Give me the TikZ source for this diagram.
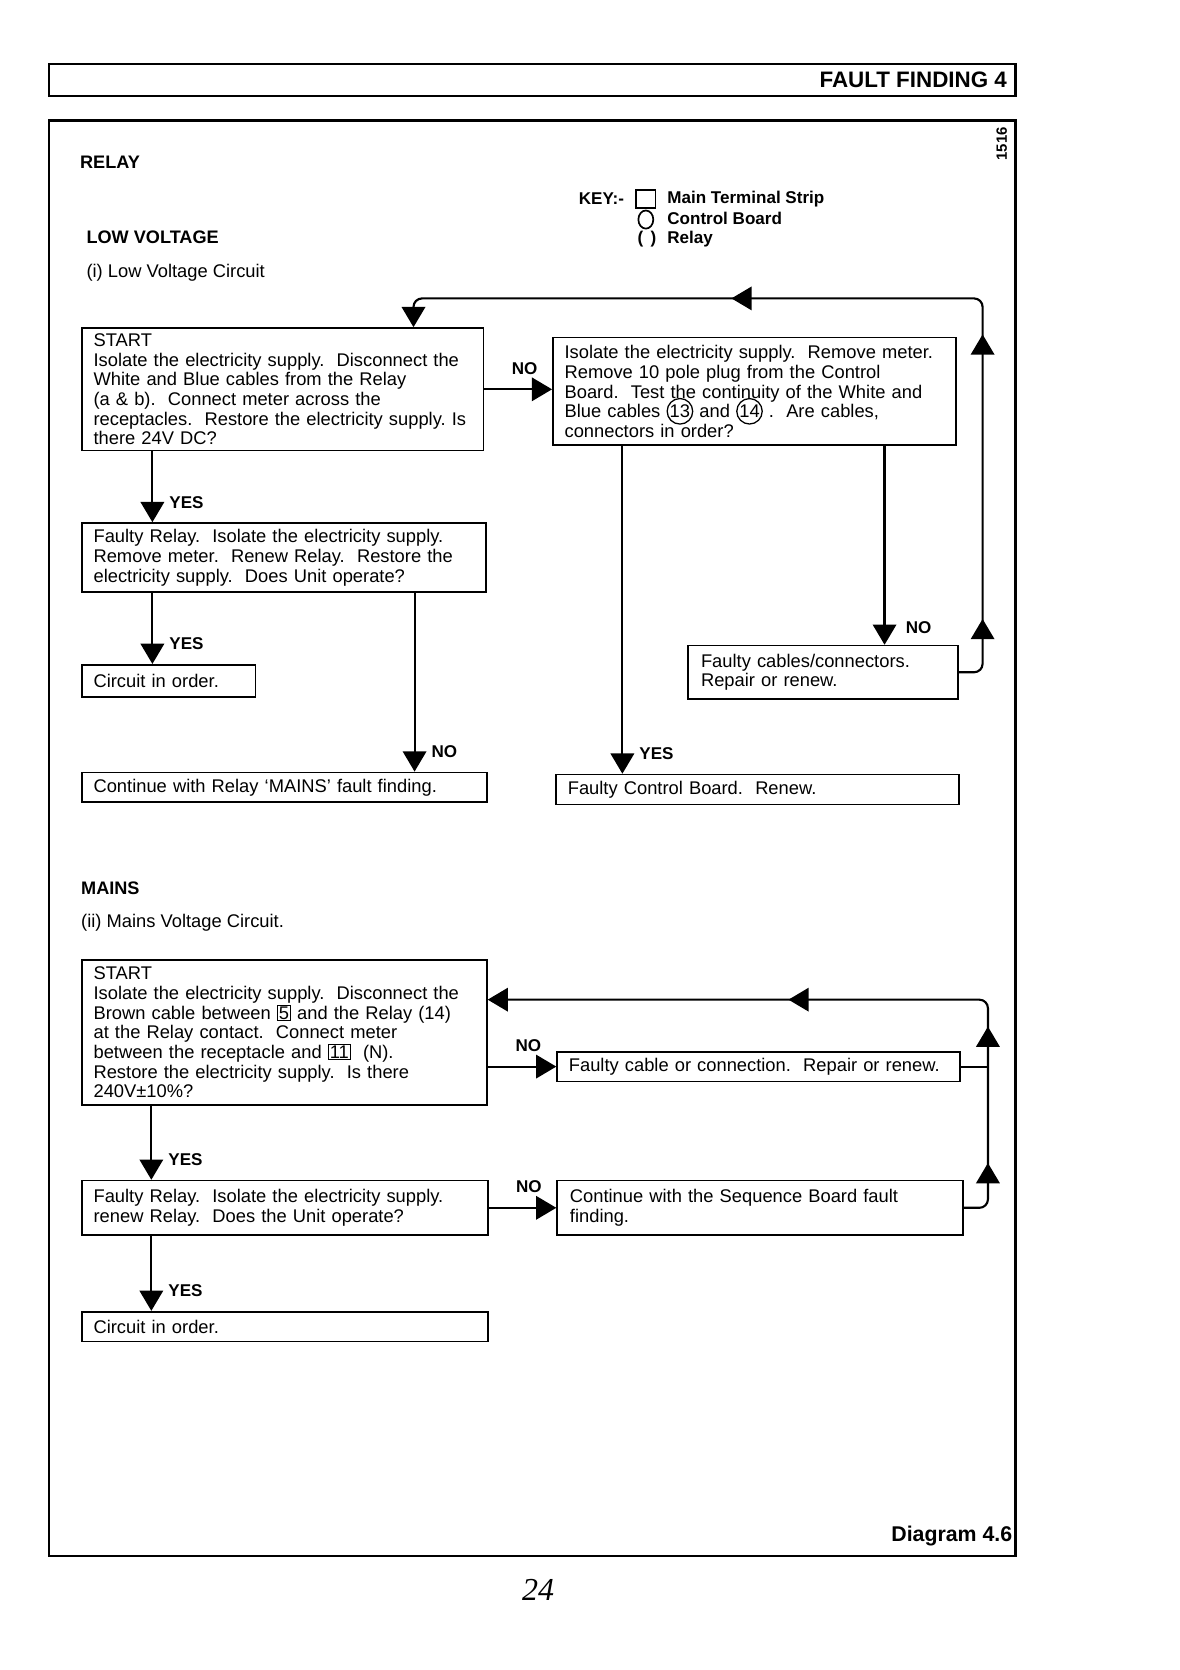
\documentclass[tikz,border=0pt]{standalone}
\usepackage{fontspec}
\setmainfont{Liberation Sans}
\newfontfamily\handfont{Liberation Serif}
\usetikzlibrary{arrows.meta,positioning,decorations.markings}
\frenchspacing

\newcommand{\boxfont}{\fontsize{17.2}{18.4}\selectfont}
\newcommand{\labfont}{\fontsize{16}{18}\selectfont\bfseries}
\newcommand{\headfont}{\fontsize{17}{20}\selectfont\bfseries}
% circled and boxed terminal numbers
\newcommand{\cnum}[1]{\smash{\tikz[baseline=(cn.base)]\node[draw,circle,line width=1.2pt,inner sep=0.5pt,minimum width=0pt,minimum height=0pt,text width={},anchor=center,align=center] (cn) {#1};}}
\newcommand{\snum}[1]{\smash{\tikz[baseline=(sn.base)]\node[draw,rectangle,line width=1.2pt,inner sep=1.2pt,minimum width=0pt,minimum height=0pt,text width={},anchor=center,align=center] (sn) {#1};}}

\tikzset{
  bigtri/.tip={Triangle[width=22pt,length=19pt]},
  frame/.style={line width=2.6pt},
  box/.style={draw,line width=1.6pt,anchor=north west,inner xsep=11pt,inner ysep=0pt,align=left,font=\boxfont},
  flow/.style={line width=2pt,-{bigtri}},
  marks/.style={postaction={decorate,decoration={markings,#1}}},
  yes/.style={font=\labfont,inner sep=0pt,anchor=south west,xshift=15pt,yshift=12pt},
  no/.style={font=\labfont,inner sep=0pt,above=13pt,xshift=6pt},
  head/.style={font=\headfont,inner sep=0pt,anchor=west},
  plain/.style={font=\boxfont,inner sep=0pt,anchor=west},
  keytext/.style={font=\labfont,inner sep=0pt,anchor=west},
}

\begin{document}
\begin{tikzpicture}[x=1pt,y=-1pt]
\useasboundingbox (0,0) rectangle (1107,1567);

% frames
\draw[frame] (46,60) rectangle (953,90);
\draw[frame] (46,113) rectangle (953,1460);
\node[font=\fontsize{21}{24}\selectfont\bfseries,inner sep=0pt,anchor=east] (title) at (945,75) {FAULT FINDING 4};
\node[font=\fontsize{14}{16}\selectfont\bfseries,inner sep=0pt,rotate=90] (code) at (940,135) {1516};
\node[font=\fontsize{20}{22}\selectfont\bfseries,inner sep=0pt,anchor=east] (diag) at (950,1441) {Diagram 4.6};
\node[font=\fontsize{30}{30}\selectfont\handfont\itshape,inner sep=0pt] (page) at (505,1492) {24};

% headings and key
\node[head] (relay) at (75,152) {RELAY};
\node[keytext] (key) at (543,186) {KEY:-};
\draw[line width=1.6pt] (597,178) rectangle (615,195);
\draw[line width=1.6pt] (606,206) ellipse [x radius=7pt,y radius=8.5pt];
\node[keytext] (keyrel) at (598,224) {(\hspace{7pt})};
\node[keytext] (keymts) at (626,187) {Main Terminal Strip};
\node[keytext] (keycb) at (626,205) {Control Board};
\node[keytext] (keyr) at (626,224) {Relay};
\node[head] (lowv) at (81,223) {LOW VOLTAGE};
\node[plain] (lowc) at (81,256) {(i) Low Voltage Circuit};
\node[head] (mains) at (76,833) {MAINS};
\node[plain] (mainc) at (76,866) {(ii) Mains Voltage Circuit.};

% low voltage circuit
\node[box,minimum width=377pt,minimum height=115pt,text width=355pt] (lvstart) at (76,307) {START\\
Isolate the electricity supply.~ Disconnect the\\
White and Blue cables from the Relay\\
(a \& b).~ Connect meter across the\\
receptacles.~ Restore the electricity supply. Is\\
there 24V DC?};
\node[box,minimum width=378pt,minimum height=101pt,text width=356pt] (cbtest) at (518,316) {Isolate the electricity supply.~ Remove meter.\\
Remove 10 pole plug from the Control\\
Board.~ Test the continuity of the White and\\
Blue cables \cnum{13} and \cnum{14}~.~ Are cables,\\
connectors in order?};
\node[box,minimum width=379pt,minimum height=65pt,text width=357pt] (lvrelay) at (76,490) {Faulty Relay.~ Isolate the electricity supply.\\
Remove meter.~ Renew Relay.~ Restore the\\
electricity supply.~ Does Unit operate?};
\node[box,minimum width=163pt,minimum height=30pt,text width=141pt] (lvok) at (76,623) {Circuit in order.};
\node[box,minimum width=380pt,minimum height=28pt,text width=358pt] (lvmains) at (76,724) {Continue with Relay ‘MAINS’ fault finding.};
\node[box,minimum width=253pt,minimum height=50pt,inner xsep=12pt,text width=229pt] (cbfault) at (645,605) {Faulty cables/connectors.\\
Repair or renew.};
\node[box,minimum width=378pt,minimum height=28pt,text width=356pt] (cbrenew) at (521,726) {Faulty Control Board.~ Renew.};

\coordinate (lvtop) at (922,280);

\draw[flow] (lvstart.east) -- (lvstart.east -| cbtest.west) node[midway,no] {NO};
\draw[flow] ([xshift=67pt]lvstart.south west) -- ([xshift=67pt]lvrelay.north west) node[yes,pos=1] {YES};
\draw[flow] ([xshift=67pt]lvrelay.south west) -- ([xshift=67pt]lvok.north west) node[yes,pos=1] {YES};
\draw[flow] ([xshift=313pt]lvrelay.south west) -- ([xshift=313pt]lvmains.north west) node[yes,pos=1] {NO};
\draw[flow] ([xshift=66pt]cbtest.south west) -- ([xshift=66pt]cbtest.south west |- cbrenew.north) node[yes,pos=1] {YES};
\draw[flow] ([xshift=312pt]cbtest.south west) -- ([xshift=312pt]cbtest.south west |- cbfault.north) node[yes,pos=1,yshift=-3pt,xshift=4pt] {NO};
\draw[flow,rounded corners=8pt,marks={mark=at position 69pt with {\arrow{bigtri}},mark=at position 336pt with {\arrow{bigtri}},mark=at position 602pt with {\arrow{bigtri}}}]
  (cbfault.east) -| (lvtop) -| ([xshift=312pt]lvstart.north west);

% mains circuit
\node[box,minimum width=380pt,minimum height=136pt,text width=358pt] (mstart) at (76,900) {START\\
Isolate the electricity supply.~ Disconnect the\\
Brown cable between \snum{5} and the Relay (14)\\
at the Relay contact.~ Connect meter\\
between the receptacle and \snum{11}~ (N).\\
Restore the electricity supply.~ Is there\\
240V±10\%?};
\node[box,minimum width=378pt,minimum height=28pt,text width=356pt] (mcable) at (522,986) {Faulty cable or connection.~ Repair or renew.};
\node[box,minimum width=381pt,minimum height=51pt,text width=359pt] (mrelay) at (76,1107) {Faulty Relay.~ Isolate the electricity supply.\\
renew Relay.~ Does the Unit operate?};
\node[box,minimum width=381pt,minimum height=51pt,inner xsep=12pt,text width=357pt] (mseq) at (522,1107) {Continue with the Sequence Board fault\\
finding.};
\node[box,minimum width=381pt,minimum height=28pt,text width=359pt] (mok) at (76,1230) {Circuit in order.};

\coordinate (mtop) at (927,938);

\draw[flow] (mstart.east |- mcable.west) -- (mcable.west) node[midway,no] {NO};
\draw[flow] (mrelay.east) -- (mseq.west) node[midway,no] {NO};
\draw[flow] ([xshift=66pt]mstart.south west) -- ([xshift=66pt]mrelay.north west) node[yes,pos=1] {YES};
\draw[flow] ([xshift=66pt]mrelay.south west) -- ([xshift=66pt]mok.north west) node[yes,pos=1] {YES};
\draw[line width=2pt] (mcable.east) -- (mcable.east -| mtop);
\draw[flow,rounded corners=8pt,marks={mark=at position 61pt with {\arrow{bigtri}},mark=at position 189pt with {\arrow{bigtri}},mark=at position 398pt with {\arrow{bigtri}}}]
  (mseq.east) -| (mtop) -- (mtop -| mstart.east);
\end{tikzpicture}
\end{document}
